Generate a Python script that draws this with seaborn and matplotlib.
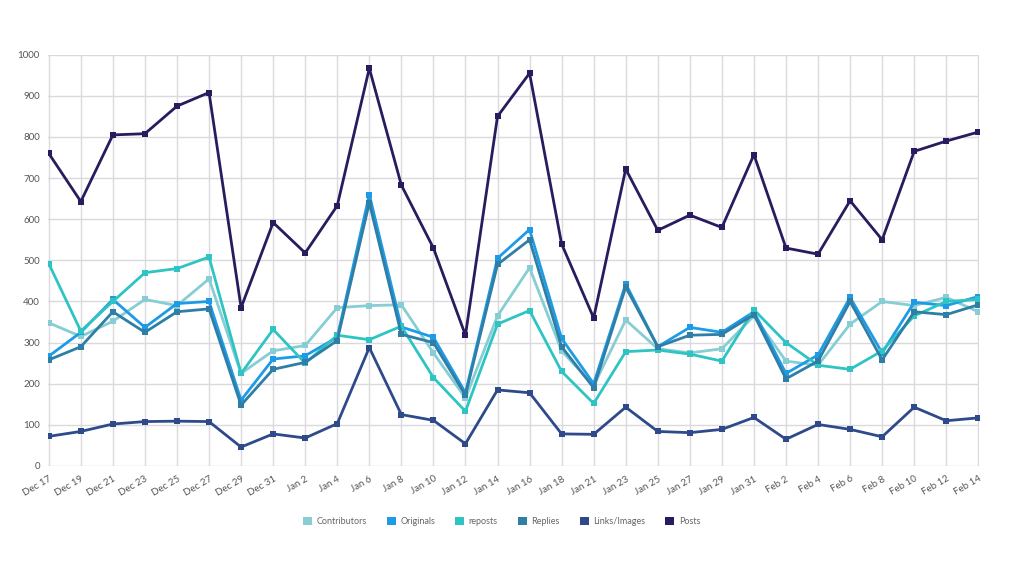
import numpy as np
import pandas as pd
import matplotlib
matplotlib.use("Agg")
import matplotlib.pyplot as plt
from matplotlib.patches import Patch
import seaborn as sns

dates = ["Dec 17", "Dec 19", "Dec 21", "Dec 23", "Dec 25", "Dec 27", "Dec 29", "Dec 31",
         "Jan 2", "Jan 4", "Jan 6", "Jan 8", "Jan 10", "Jan 12", "Jan 14", "Jan 16",
         "Jan 18", "Jan 21", "Jan 23", "Jan 25", "Jan 27", "Jan 29", "Jan 31",
         "Feb 2", "Feb 4", "Feb 6", "Feb 8", "Feb 10", "Feb 12", "Feb 14"]

contributors = [348, 315, 352, 405, 390, 455, 225, 280, 293, 385, 390, 392, 275, 165, 365,
                482, 280, 195, 355, 285, 275, 285, 365, 255, 245, 345, 400, 390, 410, 375]
originals = [267, 325, 405, 337, 395, 400, 160, 260, 268, 313, 660, 338, 313, 178, 505,
             575, 310, 200, 443, 290, 337, 325, 375, 225, 270, 410, 275, 398, 390, 412]
reposts = [492, 328, 400, 470, 480, 508, 225, 332, 250, 318, 307, 340, 215, 133, 345,
           378, 230, 152, 278, 282, 272, 255, 380, 300, 245, 235, 280, 365, 400, 405]
replies = [258, 290, 375, 325, 375, 382, 148, 235, 252, 305, 640, 320, 300, 172, 490,
           550, 290, 190, 435, 290, 318, 320, 368, 212, 255, 400, 258, 375, 368, 392]
links = [72, 84, 102, 108, 109, 108, 46, 78, 68, 103, 288, 125, 111, 54, 185,
         178, 78, 77, 143, 84, 81, 89, 118, 65, 101, 89, 71, 143, 110, 117]
posts = [760, 643, 805, 808, 875, 908, 385, 592, 518, 633, 967, 683, 530, 318, 850,
         955, 540, 360, 722, 573, 610, 580, 757, 530, 515, 645, 550, 765, 790, 812]

series_names = ["Contributors", "Originals", "reposts", "Replies", "Links/Images", "Posts"]
colors = ["#86CDD4", "#1E9BE6", "#2FC4C4", "#2E7EA6", "#2E4A8A", "#2A1A5E"]

df = pd.DataFrame({"date": dates, "Contributors": contributors, "Originals": originals,
                   "reposts": reposts, "Replies": replies, "Links/Images": links,
                   "Posts": posts})
long = df.melt(id_vars="date", var_name="series", value_name="value")

sns.set_style("white")
plt.rcParams["font.family"] = ["Lato", "DejaVu Sans"]

fig, ax = plt.subplots(figsize=(10.24, 5.76), dpi=100)
fig.subplots_adjust(left=0.047, right=0.956, top=0.905, bottom=0.191)

sns.lineplot(data=long, x="date", y="value", hue="series", hue_order=series_names,
             palette=colors, marker="s", markersize=5, markeredgewidth=0,
             linewidth=2, ax=ax, legend=False, sort=False)

ax.set_ylim(0, 1000)
ax.set_xlim(-0.02, len(dates) - 1 + 0.02)
ax.set_yticks(np.arange(0, 1001, 100))
ax.set_xticks(range(len(dates)))
ax.set_xticklabels(dates, rotation=30, ha="right", rotation_mode="anchor")
ax.tick_params(axis="both", labelsize=7, colors="#555555", length=0, pad=6)
ax.grid(True, color="#d9d9de", linewidth=1)
ax.set_axisbelow(True)
for s in ax.spines.values():
    s.set_visible(False)
ax.set_xlabel("")
ax.set_ylabel("")

handles = [Patch(facecolor=c, edgecolor="none") for c in colors]
fig.legend(handles, series_names, loc="center", bbox_to_anchor=(0.49, 0.095), ncol=6,
           frameon=False, fontsize=6.5, handlelength=1.0, handleheight=1.0,
           columnspacing=2.2, handletextpad=0.5, labelcolor="#666666")

fig.savefig("out.png", dpi=100)
